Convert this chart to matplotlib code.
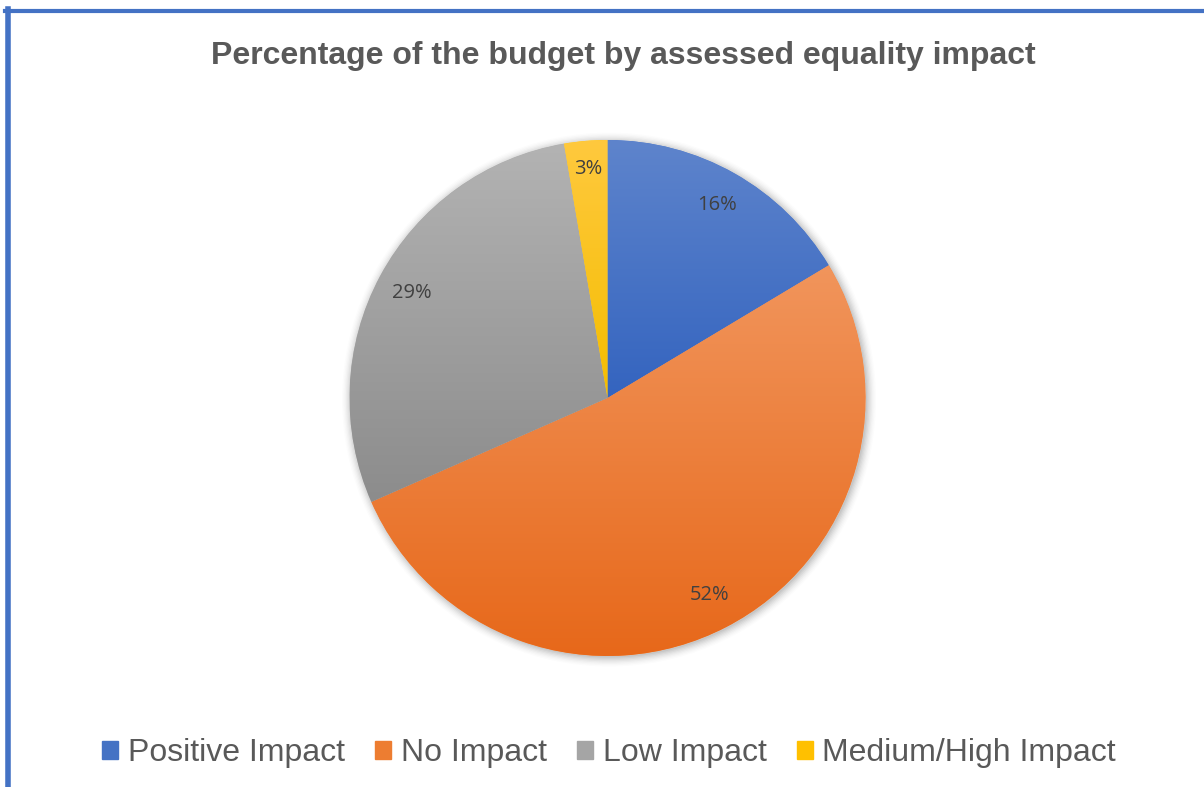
"""
Pie chart: percentage of the budget by assessed equality impact.
Excel-style look: vertical gradient on each slice, legend along the bottom.
"""

import numpy as np
import matplotlib.pyplot as plt
from matplotlib.colors import LinearSegmentedColormap
from matplotlib.lines import Line2D

categories = ["Positive Impact", "No Impact", "Low Impact", "Medium/High Impact"]
shares = [16.4, 52.0, 28.9, 2.7]
labels = ["16%", "52%", "29%", "3%"]

# (light top, dark bottom) per slice
tops = ["#5E84CC", "#F1955C", "#B3B3B3", "#FFC93E"]
bottoms = ["#3464BF", "#E7681A", "#8C8C8C", "#F4BD00"]
mids = ["#4472C4", "#ED7D31", "#A5A5A5", "#FFC000"]

fig = plt.figure(figsize=(12.04, 7.87), dpi=100)
fig.patch.set_facecolor("white")

# pie axes: centre ~ (607, 398) px, radius ~258 px
W, H = 1204, 787
cx, cy, r = 607.5, 398, 258
ax = fig.add_axes([(cx - r) / W, (H - cy - r) / H, 2 * r / W, 2 * r / H])
ax.set_xlim(-1, 1)
ax.set_ylim(-1, 1)
ax.axis("off")

# soft shadow around the pie
for k, a in zip(np.linspace(1.035, 1.0, 8), np.linspace(0.01, 0.05, 8)):
    ax.add_patch(plt.Circle((0.006, -0.006), k, color="black", alpha=a, lw=0,
                            zorder=0, clip_on=False))
ax.add_patch(plt.Circle((0, 0), 1.0, color="white", lw=0, zorder=0.5))

wedges, texts = ax.pie(shares, colors=mids, startangle=90, counterclock=False,
                       radius=1.0, wedgeprops=dict(lw=0))
for w, t, b in zip(wedges, tops, bottoms):
    w.set_zorder(1)
    ext = w.get_path().get_extents()
    cmap = LinearSegmentedColormap.from_list("g", [b, t])
    grad = np.linspace(0, 1, 256).reshape(-1, 1)
    im = ax.imshow(grad, cmap=cmap, origin="lower", aspect="auto",
                   extent=[ext.x0, ext.x1, ext.y0, ext.y1], zorder=2,
                   interpolation="bilinear")
    im.set_clip_path(w)

# data labels
theta = 90.0
for s, lab in zip(shares, labels):
    mid = np.deg2rad(theta - s * 3.6 / 2)
    rr = 0.86 if s > 5 else 0.89
    ax.text(rr * np.cos(mid), rr * np.sin(mid), lab, ha="center", va="center",
            fontsize=14.5, color="#404040", family="Open Sans", zorder=5)
    theta -= s * 3.6

ax.set_xlim(-1, 1)
ax.set_ylim(-1, 1)

fig.text(0.518, 0.929, "Percentage of the budget by assessed equality impact",
         ha="center", va="center", fontsize=23, fontweight="bold",
         color="#595959", family="Liberation Sans")

handles = [plt.Rectangle((0, 0), 1, 1, color=c) for c in mids]
leg = fig.legend(handles, categories, loc="center", bbox_to_anchor=(0.506, 0.043),
                 ncol=4, frameon=False, handlelength=0.5, handleheight=0.5,
                 handletextpad=0.3, columnspacing=0.95,
                 prop=dict(family="Liberation Sans", size=23))
for t in leg.get_texts():
    t.set_color("#595959")

# chart frame (blue top and left edges)
fig.add_artist(Line2D([5 / W, 1], [1 - 10.5 / H] * 2, color="#4472C4", lw=3,
                      transform=fig.transFigure))
fig.add_artist(Line2D([7.5 / W] * 2, [0, 1 - 9 / H], color="#4472C4", lw=4,
                      transform=fig.transFigure))

fig.savefig("out.png", dpi=100, facecolor="white")
